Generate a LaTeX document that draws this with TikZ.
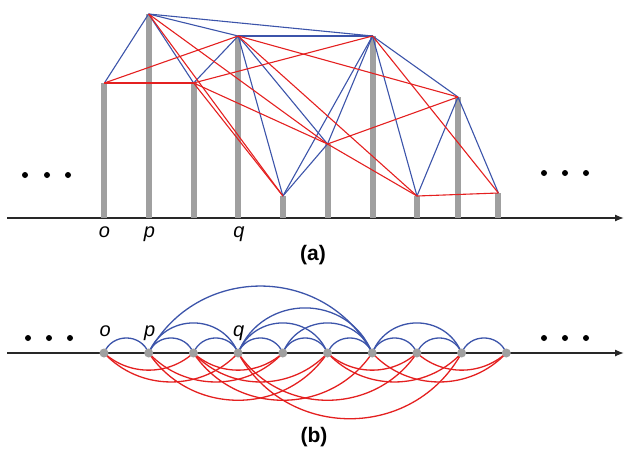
\documentclass[tikz,border=0pt]{standalone}
\usepackage{fontspec}
\setmainfont{Liberation Sans}
\usetikzlibrary{arrows.meta}
\definecolor{eblue}{RGB}{60,84,170}
\definecolor{ered}{RGB}{228,32,32}
\definecolor{bargray}{RGB}{160,160,160}
\definecolor{axisgray}{RGB}{40,40,40}
\begin{document}
\begin{tikzpicture}[x=1pt,y=1pt,
  axisline/.style={draw=axisgray,line width=1.3pt,-{Latex[length=9pt,width=7pt]}},
  barline/.style={draw=bargray,line width=6pt},
  vedge/.style={draw=eblue,line width=1.1pt},
  pedge/.style={draw=ered,line width=1.1pt},
  varc/.style={draw=eblue,line width=1.3pt},
  parc/.style={draw=ered,line width=1.3pt},
  gnode/.style={circle,fill=bargray,minimum size=9pt,inner sep=0pt},
  lbl/.style={font=\fontsize{20}{24}\selectfont\itshape,anchor=base,inner sep=0pt},
  capt/.style={font=\fontsize{21}{25}\selectfont\bfseries,anchor=base,inner sep=0pt},
  blackdot/.style={circle,fill=black,minimum size=6pt,inner sep=0pt}
]
\useasboundingbox (0,0) rectangle (624,451);

% ---------- (a) ----------
\coordinate (aL) at (7,233);
\coordinate (aR) at (624,233);
\foreach \i/\x/\y in {1/104.4/368,2/148.6/437,3/193.6/368,4/238.2/415,5/282.9/255,
                      6/327.5/307,7/372.5/415,8/417/255,9/458/354,10/498.4/258}{
  \coordinate (t\i) at (\x,\y);
  \coordinate (f\i) at (\x,233);
}
\draw[axisline] (aL) -- (aR);
\foreach \i in {1,...,10}{ \draw[barline] (f\i) -- (t\i); }

\foreach \a/\b in {1/2,2/3,3/4,4/5,5/6,6/7,7/8,8/9,9/10,2/4,2/7,4/6,4/7,5/7,7/9}{
  \draw[vedge] (t\a) -- (t\b);
}
\foreach \a/\b in {1/3,1/4,2/5,2/6,3/5,3/6,3/7,4/8,4/9,6/8,6/9,7/10,8/10}{
  \draw[pedge] (t\a) -- (t\b);
}

\node[lbl] (ao) at (104.4,214) {o};
\node[lbl] (ap) at (149.4,214) {p};
\node[lbl] (aq) at (239,214) {q};
\node[capt] (capa) at (313,190.7) {(a)};

\node[blackdot] (ad1) at (25,276) {};
\node[blackdot] (ad2) at (47,276) {};
\node[blackdot] (ad3) at (68,276) {};
\node[blackdot] (ad4) at (544,278) {};
\node[blackdot] (ad5) at (565,278) {};
\node[blackdot] (ad6) at (586,278) {};

% ---------- (b) ----------
\coordinate (bL) at (7,98);
\coordinate (bR) at (624,98);
\draw[axisline] (bL) -- (bR);
\foreach \i in {1,...,10}{
  \coordinate (n\i) at ({104+44.7*(\i-1)},98);
}
% blue arcs above
\foreach \a/\b in {1/2,2/3,3/4,4/5,5/6,6/7,7/8,8/9,9/10,2/4,4/6,5/7,7/9,4/7}{
  \draw[varc] (n\a) to[bend left=68,looseness=1.24] (n\b);
}
\draw[varc] (n2) to[bend left=62,looseness=1.16] (n7);
% red arcs below
\foreach \a/\b in {1/3,3/5,6/8,8/10}{
  \draw[parc] (n\a) to[bend right=42,looseness=0.98] (n\b);
}
\foreach \a/\b in {1/4,2/5,3/6,6/9,7/10}{
  \draw[parc] (n\a) to[bend right=47,looseness=1.01] (n\b);
}
\foreach \a/\b in {2/6,3/7,4/8}{
  \draw[parc] (n\a) to[bend right=56,looseness=1.09] (n\b);
}
\draw[parc] (n4) to[bend right=61,looseness=1.15] (n9);

\foreach \i in {1,...,10}{ \node[gnode] (g\i) at (n\i) {}; }

\node[lbl] (bo) at (105.3,114.3) {o};
\node[lbl] (bp) at (149.7,114.3) {p};
\node[lbl] (bq) at (238.7,114.3) {q};
\node[capt] (capb) at (314,8.4) {(b)};

\node[blackdot] (bd1) at (28,113) {};
\node[blackdot] (bd2) at (49,113) {};
\node[blackdot] (bd3) at (70,113) {};
\node[blackdot] (bd4) at (544,113) {};
\node[blackdot] (bd5) at (565,113) {};
\node[blackdot] (bd6) at (586,113) {};
\end{tikzpicture}
\end{document}
